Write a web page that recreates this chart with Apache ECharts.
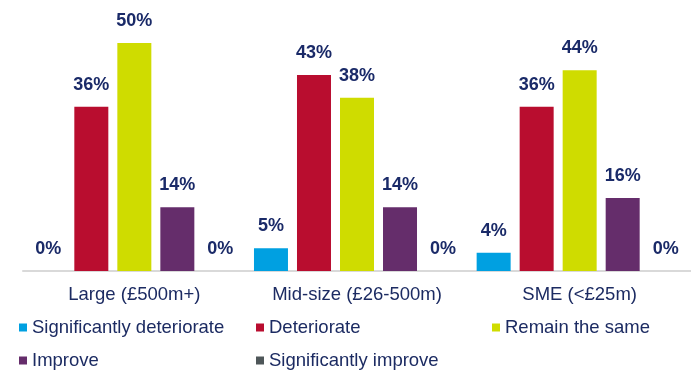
<!DOCTYPE html>
<html>
<head>
<meta charset="utf-8">
<style>
  html, body { margin: 0; padding: 0; background: #ffffff; }
  #chart { width: 691px; height: 372px; }
</style>
<script src="https://cdn.jsdelivr.net/npm/echarts@6/dist/echarts.min.js"></script>
</head>
<body>
<div id="chart"></div>
<script>
// Company size groups on the x axis
var categories = ['Large (£500m+)', 'Mid-size (£26-500m)', 'SME (<£25m)'];

// Share of respondents per outlook (%)
var sigDeteriorate = [0, 5, 4];
var deteriorate    = [36, 43, 36];
var remainSame     = [50, 38, 44];
var improve        = [14, 14, 16];
var sigImprove     = [0, 0, 0];

var seriesNames = ['Significantly deteriorate', 'Deteriorate', 'Remain the same', 'Improve', 'Significantly improve'];
var seriesData  = [sigDeteriorate, deteriorate, remainSame, improve, sigImprove];
var seriesColors = ['#00a0e1', '#b90d2f', '#cfdc00', '#652d6b', '#4e5659'];

// Legend placement: three columns, two rows
var legendSlots = [
  { left: 19, top: 318 },
  { left: 256, top: 318 },
  { left: 492, top: 318 },
  { left: 19, top: 351 },
  { left: 256, top: 351 }
];

var FONT = '"Liberation Sans", Arial, Helvetica, sans-serif';
var TEXT_COLOR = '#1c2b62';
var LABEL_COLOR = '#1a2a68';

var chart = echarts.init(document.getElementById('chart'), null, { renderer: 'canvas' });

var series = seriesNames.map(function (name, i) {
  return {
    name: name,
    type: 'bar',
    data: seriesData[i],
    barWidth: 34,
    barGap: '26.5%',
    itemStyle: { color: seriesColors[i] },
    label: {
      show: true,
      position: 'top',
      distance: 13,
      formatter: '{c}%',
      fontFamily: FONT,
      fontSize: 18,
      fontWeight: 'bold',
      color: LABEL_COLOR
    },
    emphasis: { disabled: true }
  };
});

var legends = seriesNames.map(function (name, i) {
  return {
    data: [name],
    left: legendSlots[i].left,
    top: legendSlots[i].top,
    icon: 'rect',
    itemWidth: 8,
    itemHeight: 8,
    padding: 0,
    selectedMode: false,
    textStyle: { fontFamily: FONT, fontSize: 18.5, color: TEXT_COLOR }
  };
});

chart.setOption({
  animation: false,
  backgroundColor: '#ffffff',
  textStyle: { fontFamily: FONT },
  legend: legends,
  grid: { left: 23, right: 0, top: 43, bottom: 101, containLabel: false },
  xAxis: {
    type: 'category',
    data: categories,
    axisLine: { show: true, lineStyle: { color: '#d9d9d9', width: 2 } },
    axisTick: { show: false },
    axisLabel: {
      margin: 14,
      fontFamily: FONT,
      fontSize: 18.5,
      color: TEXT_COLOR
    }
  },
  yAxis: {
    type: 'value',
    min: 0,
    max: 50,
    show: false,
    splitLine: { show: false }
  },
  series: series
});
</script>
</body>
</html>
